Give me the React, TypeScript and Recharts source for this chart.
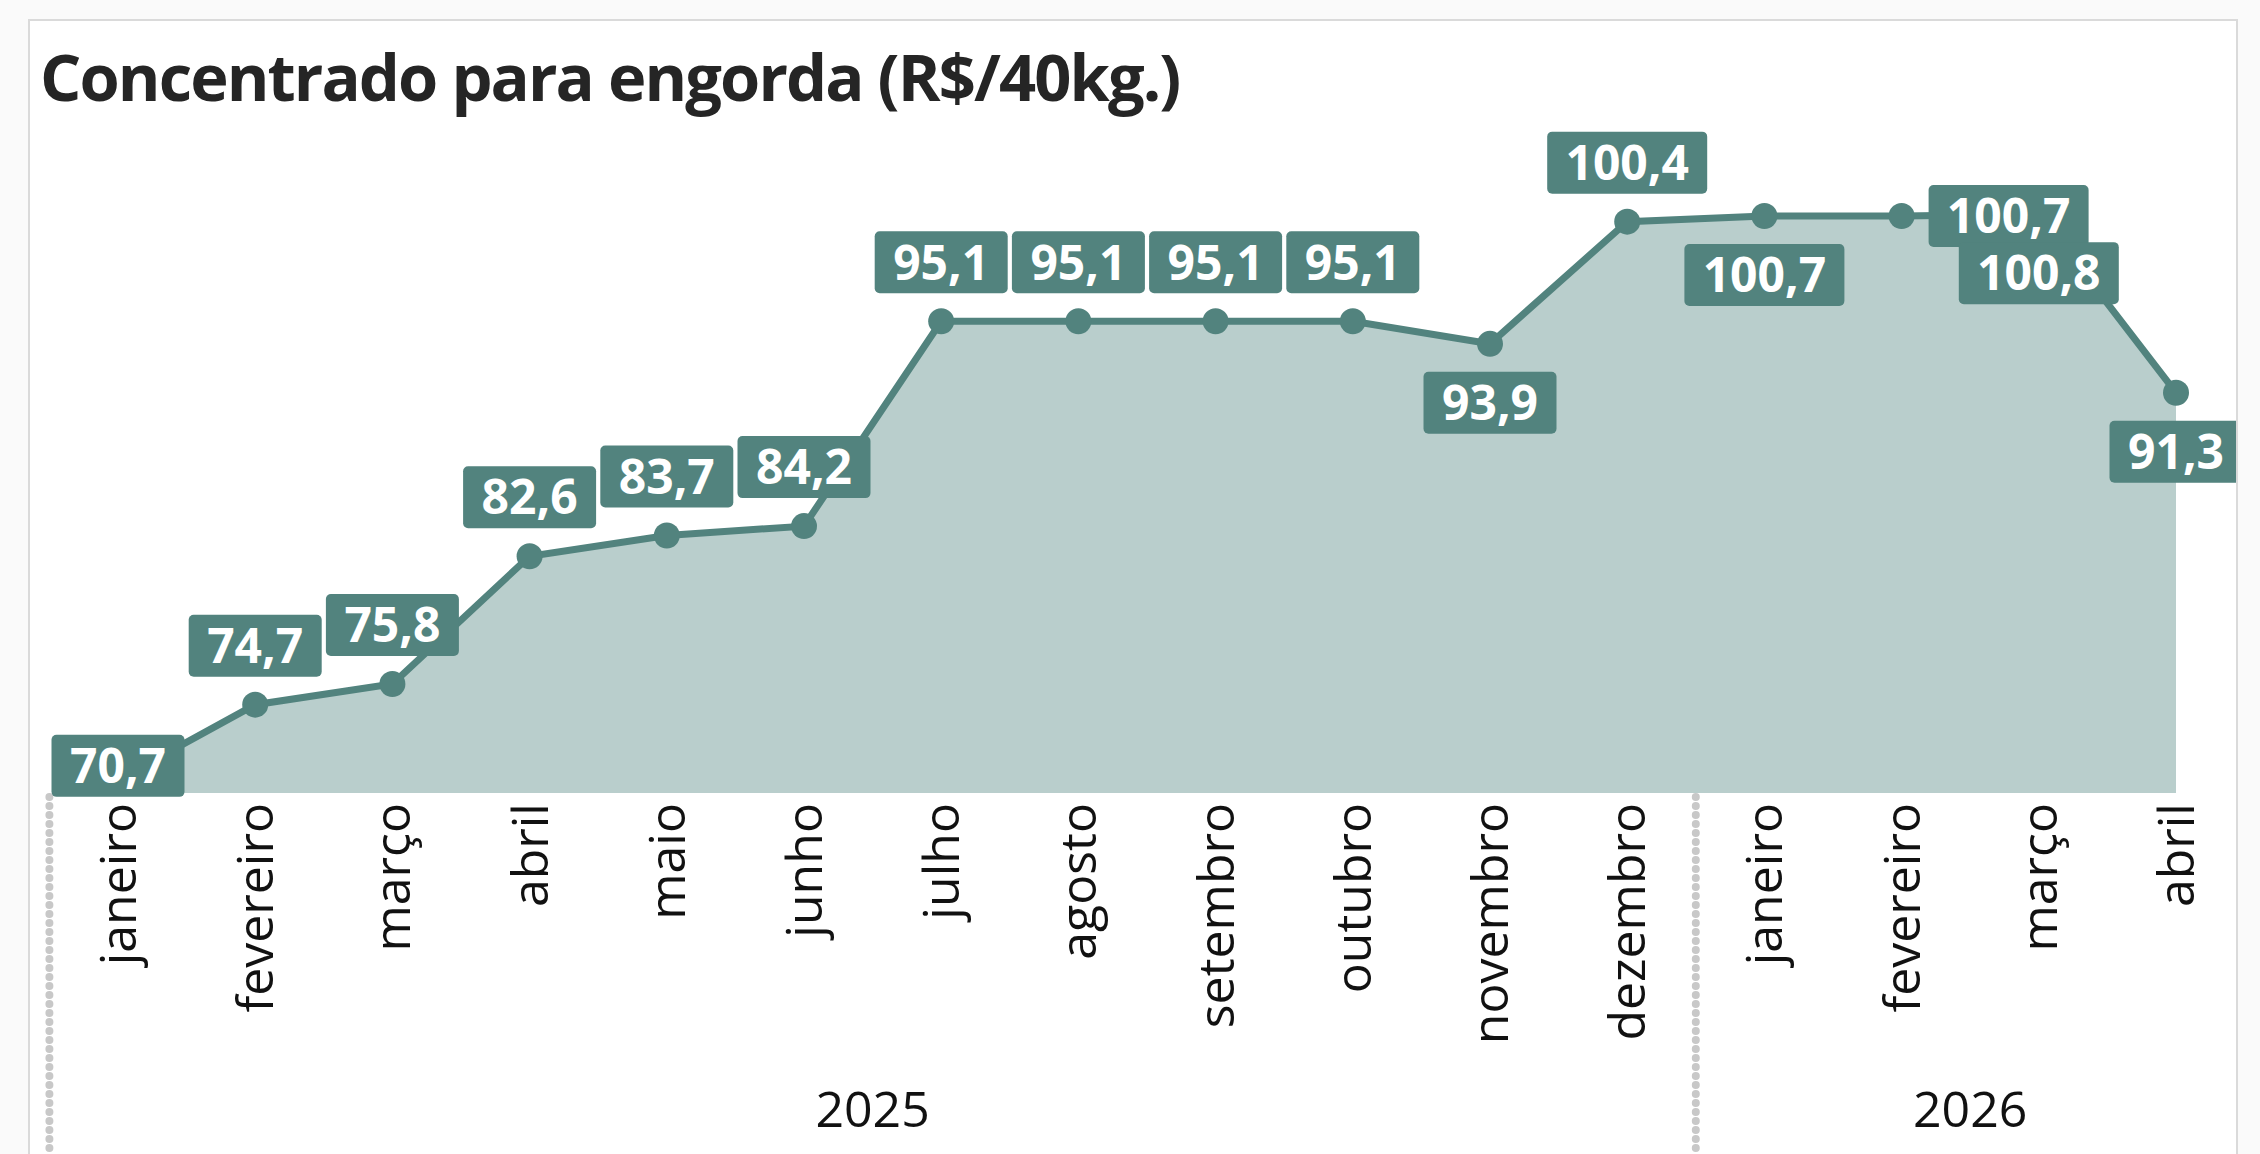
import React from "react";
import { AreaChart, Area, XAxis, YAxis, LabelList } from "recharts";

// monthly price series, R$/40kg
const months = [
  "janeiro", "fevereiro", "março", "abril", "maio", "junho", "julho", "agosto",
  "setembro", "outubro", "novembro", "dezembro", "janeiro", "fevereiro", "março", "abril",
];
const years = [
  "2025", "2025", "2025", "2025", "2025", "2025", "2025", "2025",
  "2025", "2025", "2025", "2025", "2026", "2026", "2026", "2026",
];
const prices = [70.7, 74.7, 75.8, 82.6, 83.7, 84.2, 95.1, 95.1, 95.1, 95.1, 93.9, 100.4, 100.7, 100.7, 100.8, 91.3];

// where each data label sits relative to its point
const labelPlacement = [
  "base", "above", "above", "above", "above", "above", "above", "above",
  "above", "above", "below", "above", "below", "right", "below", "below",
];

const TEAL = "#52837E";
const AREA_FILL = "#B9CECC";
const FONT = "'Segoe UI', 'Open Sans', sans-serif";

const W = 2260;
const H = 1154;
const PLOT_LEFT = 118;
const PLOT_RIGHT = 2176;
const PLOT_TOP = 154;
const PLOT_BOTTOM = 793;
const STEP = (PLOT_RIGHT - PLOT_LEFT) / (months.length - 1);

const chartData = months.map((m, i) => ({
  key: `${m}-${years[i]}`,
  month: m,
  year: years[i],
  price: prices[i],
}));

const fmt = (v: number) => v.toFixed(1).replace(".", ",");

function MonthTick(props: any) {
  const { x, y, payload } = props;
  const i = payload.index ?? props.index;
  const isFirstOfYear = i === 0 || years[i] !== years[i - 1];
  const count = years.filter((yy) => yy === years[i]).length;
  return (
    <g>
      {isFirstOfYear && (
        <line
          x1={x - STEP / 2}
          x2={x - STEP / 2}
          y1={y + 4}
          y2={H}
          stroke="#C8C8C8"
          strokeWidth={8}
          strokeDasharray="0 9"
          strokeLinecap="round"
        />
      )}
      <text
        transform={`translate(${x}, ${y + 10}) rotate(-90)`}
        textAnchor="end"
        dy="0.36em"
        fontSize={50}
        fontFamily={FONT}
        fill="#111"
      >
        {months[i]}
      </text>
      {isFirstOfYear && (
        <text
          x={x + ((count - 1) / 2) * STEP}
          y={1127}
          textAnchor="middle"
          fontSize={50}
          fontFamily={FONT}
          fill="#111"
        >
          {years[i]}
        </text>
      )}
    </g>
  );
}

function ValueLabel(props: any) {
  const { x, y, value, index } = props;
  const text = fmt(Number(value));
  const w = 27 * text.length + 25;
  const h = 62;
  const place = labelPlacement[index];
  let left = x - w / 2;
  let top = y - 28 - h;
  if (place === "below") top = y + 28;
  if (place === "base") top = y - 45;
  if (place === "right") {
    left = x + 27;
    top = y - h / 2;
  }
  return (
    <g>
      <rect x={left} y={top} width={w} height={h} rx={5} fill={TEAL} />
      <text
        x={left + w / 2}
        y={top + h / 2}
        dy="0.36em"
        textAnchor="middle"
        fontSize={48}
        fontWeight={700}
        fontFamily={FONT}
        fill="#fff"
      >
        {text}
      </text>
    </g>
  );
}

export default function App() {
  return (
    <div
      style={{
        position: "absolute",
        left: 0,
        top: 0,
        width: W,
        height: H,
        background: "#FAFAFA",
        overflow: "hidden",
      }}
    >
      <div
        style={{
          position: "absolute",
          left: 28,
          top: 19,
          width: 2210,
          height: 1200,
          border: "2px solid #DADADA",
          boxSizing: "border-box",
          background: "#fff",
          overflow: "hidden",
        }}
      >
        <div style={{ position: "absolute", left: -30, top: -21, width: W, height: H }}>
          <div
            style={{
              position: "absolute",
              left: 40,
              top: 33,
              fontFamily: FONT,
              fontWeight: 700,
              fontSize: 65,
              letterSpacing: -1.9,
              lineHeight: "86px",
              color: "#252525",
              whiteSpace: "nowrap",
            }}
          >
            Concentrado para engorda (R$/40kg.)
          </div>
          <div style={{ position: "absolute", left: 0, top: 0 }}>
            <AreaChart
              width={W}
              height={H}
              data={chartData}
              margin={{ top: PLOT_TOP, right: W - PLOT_RIGHT, bottom: 0, left: PLOT_LEFT }}
            >
              <XAxis
                dataKey="key"
                height={H - PLOT_BOTTOM}
                axisLine={false}
                tickLine={false}
                tickSize={0}
                tickMargin={0}
                interval={0}
                tick={<MonthTick />}
              />
              <YAxis hide domain={[70, 104]} />
              <Area
                type="linear"
                dataKey="price"
                stroke={TEAL}
                strokeWidth={7}
                fill={AREA_FILL}
                fillOpacity={1}
                dot={{ r: 13, fill: TEAL, stroke: "none" }}
                activeDot={false}
                isAnimationActive={false}
              >
                <LabelList dataKey="price" content={<ValueLabel />} />
              </Area>
            </AreaChart>
          </div>
        </div>
      </div>
    </div>
  );
}
